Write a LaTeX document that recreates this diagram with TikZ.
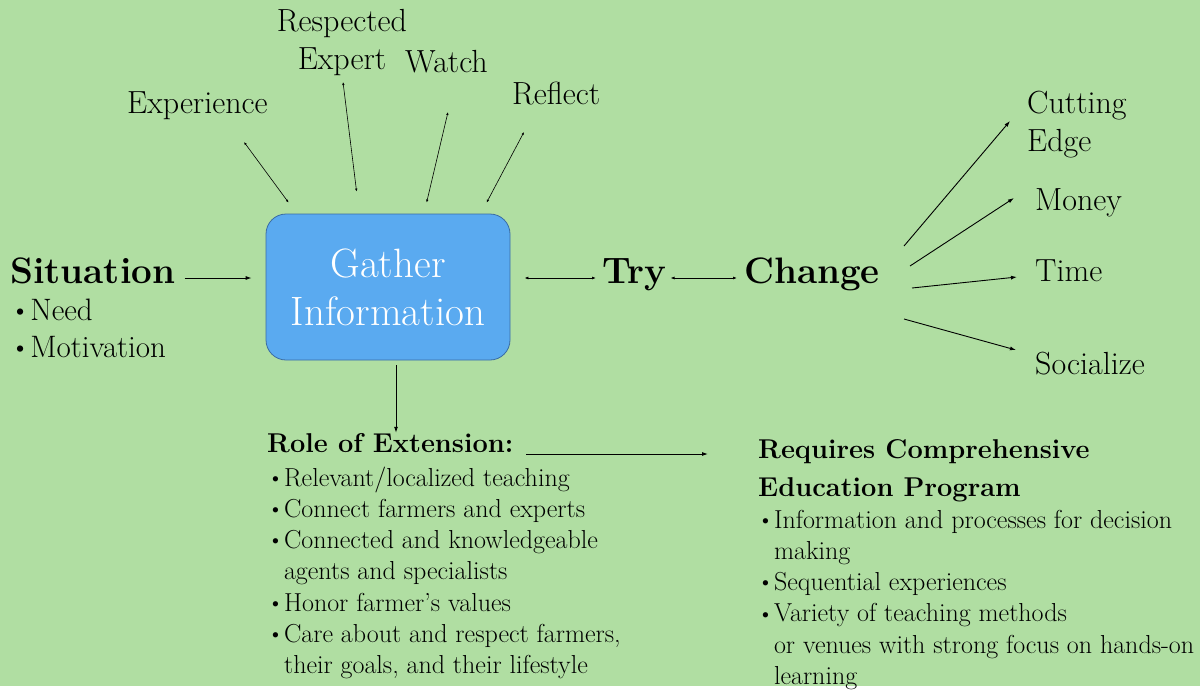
\documentclass[tikz,border=0pt]{standalone}
\usepackage{fontspec}
\usetikzlibrary{arrows.meta,calc}
\definecolor{meadow}{HTML}{B0DEA2}
\definecolor{sky}{HTML}{5AAAF0}
\definecolor{skyline}{HTML}{3A6CA4}
\tikzstyle{word}=[inner sep=0, anchor=base west, font=\fontsize{32}{38}\selectfont]
\tikzstyle{big word}=[word, font=\fontsize{36.8}{42}\selectfont\bfseries]
\tikzstyle{head}=[word, font=\fontsize{27.2}{38}\selectfont\bfseries]
\tikzstyle{list}=[word, font=\fontsize{26}{31.3}\selectfont]
\tikzstyle{node box}=[draw=skyline, fill=sky, line width=0.8, rounded corners=20,
  minimum width=244, minimum height=146, inner sep=0, text=white, align=center,
  font=\fontsize{41}{48}\selectfont]
\tikzstyle{connect}=[line width=0.9, -{Latex[length=6, width=4]}]
\tikzstyle{connect both}=[line width=0.6, {Latex[length=3, width=2.5]}-{Latex[length=3, width=2.5]}]
\newcommand{\dotmark}{\raisebox{0.03em}{\scalebox{0.9}{\textbullet}}}
\newcommand{\gap}{\hphantom{\dotmark}}

\begin{document}
\begin{tikzpicture}[x=1pt, y=-1pt]
      \fill[meadow] (0,0) rectangle (1200,686);

      % MAIN ROW
      \node[big word] (situation) at (10, 283) {Situation};
      \node[word, font=\fontsize{31}{37}\selectfont] (needs) at (10, 320)
        {\begin{tabular}[t]{@{}l@{}}\dotmark Need\\\dotmark Motivation\end{tabular}};
      \node[node box] (gather) at (388, 287) {Gather\\Information};
      \node[big word] (try) at (602, 283) {Try};
      \node[big word] (change) at (744, 283) {Change};

      \draw[connect] ($(situation.base east)+(9,-5)$) -- ($(gather.west |- situation.base)+(-14,-5)$);
      \draw[connect, {Latex[length=4, width=3]}-{Latex[length=4, width=3]}]
        ($(gather.east |- try.base)+(14,-5)$) -- ($(try.base west)+(-6,-5)$);
      \draw[connect, {Latex[length=4, width=3]}-{Latex[length=4, width=3]}]
        ($(try.base east)+(4,-5)$) -- ($(change.base west)+(-7,-5)$);

      % SOURCES OF INFORMATION
      \node[word] (experience) at (127, 113) {Experience};
      \node[word, anchor=base] (expert) at (342, 31)
        {\begin{tabular}[t]{@{}c@{}}Respected\\Expert\end{tabular}};
      \node[word] (watch) at (405, 72) {Watch};
      \node[word] (reflect) at (512, 104) {Reflect};
      \coordinate (experience-end) at (244, 142);
      \coordinate (expert-end) at (343, 82);
      \coordinate (watch-end) at (448, 112);
      \coordinate (reflect-end) at (524, 132);
      \draw[connect both] (experience-end) -- ($(gather.north west)+(23,-11)$);
      \draw[connect both] (expert-end) -- ($(gather.north west)+(91,-22)$);
      \draw[connect both] (watch-end) -- ($(gather.north west)+(161,-11)$);
      \draw[connect both] (reflect-end) -- ($(gather.north west)+(221,-11)$);

      % OUTCOMES
      \node[word] (edge) at (1027, 113)
        {\begin{tabular}[t]{@{}l@{}}Cutting\\Edge\end{tabular}};
      \node[word] (money) at (1035, 210) {Money};
      \node[word] (time) at (1035, 281) {Time};
      \node[word] (socialize) at (1035, 374) {Socialize};
      \draw[connect] ($(change.base west)+(160,-37)$) -- ($(edge.base west)+(-17,8)$);
      \draw[connect] ($(change.base west)+(166,-17)$) -- ($(money.base west)+(-21,-12)$);
      \draw[connect] ($(change.base west)+(168,5)$) -- ($(time.base west)+(-18,-4)$);
      \draw[connect] ($(change.base west)+(160,36)$) -- ($(socialize.base west)+(-19,-24)$);

      % EXTENSION
      \node[head] (role) at (267, 452) {Role of Extension:};
      \node[list] (role-list) at (267, 486) {\begin{tabular}[t]{@{}l@{}}
        \dotmark Relevant/localized teaching\\
        \dotmark Connect farmers and experts\\
        \dotmark Connected and knowledgeable\\
        \gap agents and specialists\\
        \dotmark Honor farmer’s values\\
        \dotmark Care about and respect farmers,\\
        \gap their goals, and their lifestyle
      \end{tabular}};
      \node[head] (program) at (758, 458) {\begin{tabular}[t]{@{}l@{}}
        Requires Comprehensive\\
        Education Program
      \end{tabular}};
      \node[list] (program-list) at (757, 528) {\begin{tabular}[t]{@{}l@{}}
        \dotmark Information and processes for decision\\
        \gap making\\
        \dotmark Sequential experiences\\
        \dotmark Variety of teaching methods\\
        \gap or venues with strong focus on hands-on\\
        \gap learning
      \end{tabular}};

      \draw[connect] ([xshift=8pt, yshift=-5pt]gather.south) -- ([xshift=8pt]gather.south |- role.north);
      \draw[connect] ($(role.base west)+(259,2)$) -- ($(role.base east -| program.west)+(-50,2)$);
    \end{tikzpicture}
\end{document}
